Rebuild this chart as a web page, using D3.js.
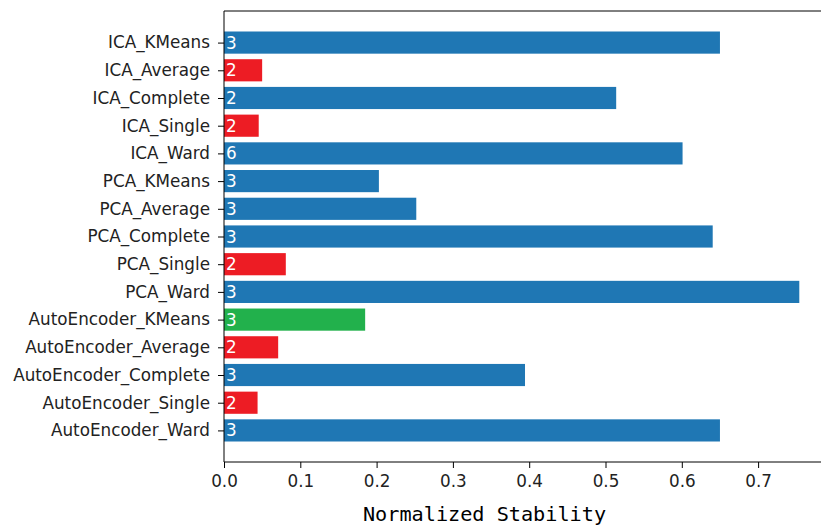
<!DOCTYPE html>
<html>
<head>
<meta charset="utf-8">
<script src="https://cdn.jsdelivr.net/npm/d3@7"></script>
<style>
  html, body { margin: 0; padding: 0; background: #fff; }
  svg { display: block; }
</style>
</head>
<body>
<svg id="chart" width="821" height="525"></svg>
<script>
// Clustering methods, top to bottom
const methods = [
  "ICA_KMeans", "ICA_Average", "ICA_Complete", "ICA_Single", "ICA_Ward",
  "PCA_KMeans", "PCA_Average", "PCA_Complete", "PCA_Single", "PCA_Ward",
  "AutoEncoder_KMeans", "AutoEncoder_Average", "AutoEncoder_Complete",
  "AutoEncoder_Single", "AutoEncoder_Ward"
];
// Normalized stability per method
const stability = [
  0.650, 0.050, 0.514, 0.0455, 0.601,
  0.203, 0.252, 0.6405, 0.081, 0.754,
  0.185, 0.071, 0.3945, 0.044, 0.650
];
// Number of clusters found by each method
const clusters = [3, 2, 2, 2, 6, 3, 3, 3, 2, 3, 3, 2, 3, 2, 3];
// Bar colour group per method
const group = [
  "normal", "low", "normal", "low", "normal",
  "normal", "normal", "normal", "low", "normal",
  "best", "low", "normal", "low", "normal"
];
const xTicks = [0.0, 0.1, 0.2, 0.3, 0.4, 0.5, 0.6, 0.7];

const colors = { normal: "#1f77b4", low: "#ed1c24", best: "#22b14c" };

const svg = d3.select("#chart");
const plotLeft = 224, plotTop = 11, plotBottom = 462;
const n = methods.length;
const xMax = d3.max(stability) * 1.05;
const pxPerUnit = 763;
const fontSize = 16.8;

const x = d3.scaleLinear().domain([0, xMax]).range([plotLeft, plotLeft + xMax * pxPerUnit]);
// categorical positions with padding above and below the bars
const y = d3.scaleLinear().domain([-1.14, n - 1 + 1.14]).range([plotTop, plotBottom]);
const barH = (y(1) - y(0)) * 0.8;

const data = methods.map((m, i) => ({ m, v: stability[i], k: clusters[i], g: group[i], i }));

svg.append("g").selectAll("rect").data(data).join("rect")
  .attr("x", x(0))
  .attr("y", d => y(d.i) - barH / 2)
  .attr("width", d => x(d.v) - x(0))
  .attr("height", barH)
  .attr("fill", d => colors[d.g]);

svg.append("g").selectAll("text").data(data).join("text")
  .attr("x", x(0) + 2)
  .attr("y", d => y(d.i))
  .attr("dy", "0.36em")
  .attr("fill", "#fff")
  .attr("font-family", "DejaVu Sans")
  .attr("font-size", fontSize)
  .text(d => d.k);

// y axis
const yAxis = d3.axisLeft(y).tickValues(d3.range(n)).tickFormat(i => methods[i]).tickSize(6).tickPadding(8);
const gy = svg.append("g").attr("transform", `translate(${plotLeft},0)`).call(yAxis);
gy.select(".domain").remove();
gy.selectAll("text").attr("font-family", "DejaVu Sans").attr("font-size", fontSize).attr("fill", "#222");
gy.selectAll("line").attr("stroke", "#000");

// x axis
const xAxis = d3.axisBottom(x).tickValues(xTicks).tickFormat(d3.format(".1f")).tickSize(6).tickPadding(7);
const gx = svg.append("g").attr("transform", `translate(0,${plotBottom})`).call(xAxis);
gx.select(".domain").remove();
gx.selectAll("text").attr("font-family", "DejaVu Sans").attr("font-size", fontSize).attr("fill", "#222");
gx.selectAll("line").attr("stroke", "#000");

// frame
const xr = x(xMax);
svg.append("line").attr("x1", plotLeft).attr("x2", plotLeft).attr("y1", plotTop).attr("y2", plotBottom).attr("stroke", "#000");
svg.append("line").attr("x1", plotLeft).attr("x2", xr).attr("y1", plotBottom).attr("y2", plotBottom).attr("stroke", "#000");
svg.append("line").attr("x1", plotLeft).attr("x2", xr).attr("y1", plotTop).attr("y2", plotTop).attr("stroke", "#000");
svg.append("line").attr("x1", xr).attr("x2", xr).attr("y1", plotTop).attr("y2", plotBottom).attr("stroke", "#000");

svg.append("text")
  .attr("x", 484.5).attr("y", 521)
  .attr("text-anchor", "middle")
  .attr("font-family", "DejaVu Sans Mono")
  .attr("font-size", 20.2)
  .attr("fill", "#000")
  .text("Normalized Stability");
</script>
</body>
</html>
